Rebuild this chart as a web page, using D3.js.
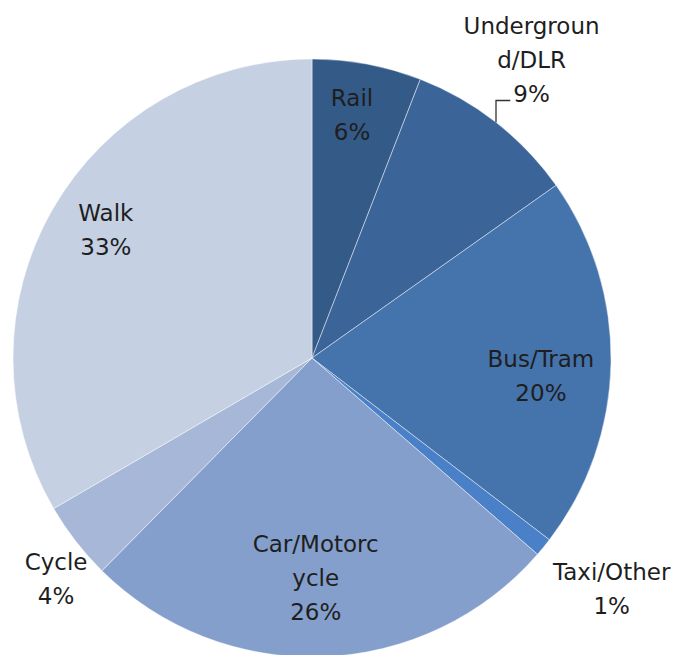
<!DOCTYPE html>
<html>
<head>
<meta charset="utf-8">
<script src="https://cdn.jsdelivr.net/npm/d3@7/dist/d3.min.js"></script>
<style>
  html, body { margin: 0; padding: 0; background: #fff; }
  svg { display: block; }
  text { font-family: "DejaVu Sans", sans-serif; font-size: 23px; fill: #1e1e1e; }
</style>
</head>
<body>
<svg id="chart" width="678" height="655"></svg>
<script>
// ---- data ----
const categories = ["Rail", "Underground/DLR", "Bus/Tram", "Taxi/Other", "Car/Motorcycle", "Cycle", "Walk"];
const shares = [5.9, 9.3, 20.2, 1.0, 26.0, 4.2, 33.4];

// ---- styles / layout (not data) ----
const colors = ["#345a88", "#3b6499", "#4573ac", "#4a80c8", "#849fcc", "#a7b7d7", "#c5d0e3"];
const labelLayout = [
  { k: 0.827, dA: -1.3, outside: false },
  { k: 1.238, dA: -1.6, outside: true, leader: true },
  { k: 0.768, dA: 3.4, outside: false },
  { k: 1.264, dA: -1.7, outside: true },
  { k: 0.733, dA: 1.2, outside: false },
  { k: 1.129, dA: -2.9, outside: true },
  { k: 0.813, dA: 2.1, outside: false }
];
const cx = 312, cy = 358, R = 299;
const lineH = 34, capH = 17, wrapChars = 10;

const svg = d3.select("#chart");
const g = svg.append("g").attr("transform", `translate(${cx},${cy})`);

const pie = d3.pie().sort(null).value(d => d).startAngle(0).endAngle(2 * Math.PI);
const arcs = pie(shares);
const arc = d3.arc().innerRadius(0).outerRadius(R);

g.selectAll("path.slice")
  .data(arcs)
  .join("path")
  .attr("class", "slice")
  .attr("d", arc)
  .attr("fill", (d, i) => colors[i])
  .attr("stroke", "rgba(255,255,255,0.45)")
  .attr("stroke-width", 1);

function wrap(s) {
  const out = [];
  for (let i = 0; i < s.length; i += wrapChars) out.push(s.slice(i, i + wrapChars));
  return out;
}
const total = d3.sum(shares);
const polar = (ang, r) => [r * Math.sin(ang), -r * Math.cos(ang)];

arcs.forEach((a, i) => {
  const L = labelLayout[i];
  const mid = (a.startAngle + a.endAngle) / 2 + L.dA * Math.PI / 180;
  const [x, y] = polar(mid, L.k * R);
  const lines = wrap(categories[i]).concat([Math.round(shares[i] / total * 100) + "%"]);
  const n = lines.length;
  const t = g.append("text").attr("text-anchor", "middle");
  const tspans = [];
  lines.forEach((ln, j) => {
    const ts = t.append("tspan")
      .attr("x", x)
      .attr("y", y + (j - (n - 1) / 2) * lineH + capH / 2)
      .text(ln);
    tspans.push(ts);
  });
  if (L.leader) {
    const am = (a.startAngle + a.endAngle) / 2;
    const [px, py] = polar(am, R);
    const last = tspans[n - 1].node().getBBox();
    const ly = y + ((n - 1) / 2) * lineH + capH / 2 - 2;
    g.append("path")
      .attr("d", `M${px},${py}V${ly}H${last.x - 3}`)
      .attr("fill", "none")
      .attr("stroke", "#333")
      .attr("stroke-width", 1.3);
  }
});
</script>
</body>
</html>
